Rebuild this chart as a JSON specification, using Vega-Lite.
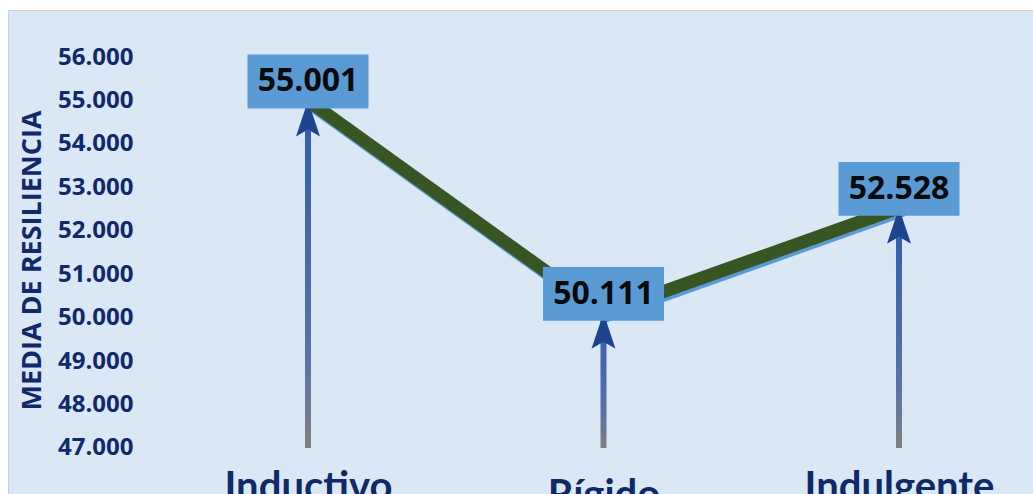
{
  "$schema": "https://vega.github.io/schema/vega-lite/v6.json",
  "width": 1025,
  "height": 484,
  "autosize": "none",
  "padding": {"left": 8, "top": 10, "right": 0, "bottom": 0},
  "background": "white",
  "view": {"fill": "#dae7f5", "stroke": "#d0d0d0", "strokeWidth": 1},
  "data": {"values": [
    {"estilo": "Inductivo", "media": 55.001},
    {"estilo": "Rígido", "media": 50.111},
    {"estilo": "Indulgente", "media": 52.528}
  ]},
  "encoding": {
    "x": {
      "field": "estilo", "type": "nominal", "sort": null,
      "scale": {"type": "point", "range": [300, 891], "padding": 0},
      "axis": {
        "title": null, "orient": "bottom", "offset": 1, "domain": false, "ticks": false, "tickSize": 0,
        "labelPadding": {"condition": {"test": "datum.value === 'Rígido'", "value": 12}, "value": 4},
        "labelBaseline": "alphabetic", "labelFont": "Lato", "labelFontSize": 40,
        "labelFontWeight": "bold", "labelColor": "#0f2a66", "labelAngle": 0, "grid": false,
        "labelLimit": 0, "labelOverlap": false
      }
    },
    "y": {
      "field": "media", "type": "quantitative",
      "scale": {"domain": [45.941, 57.083], "zero": false, "nice": false},
      "axis": {
        "title": "MEDIA DE RESILIENCIA", "offset": -125, "domain": false, "ticks": false, "tickSize": 0,
        "labelPadding": 0, "grid": false, "values": [47, 48, 49, 50, 51, 52, 53, 54, 55, 56],
        "format": ".3f", "labelFont": "Open Sans", "labelFontSize": 24, "labelFontWeight": "bold",
        "labelColor": "#10296b", "labelFlush": false, "labelOverlap": false,
        "titleFont": "Open Sans", "titleFontSize": 27, "titleFontWeight": "bold", "titleColor": "#10296b",
        "titleAngle": 270, "titleX": -101, "titleY": 250, "titleAlign": "center", "titleBaseline": "middle",
        "titleLimit": 0
      }
    }
  },
  "layer": [
    {"mark": {"type": "line", "color": "#5b9bd5", "strokeWidth": 13, "strokeCap": "round", "strokeJoin": "round", "xOffset": 2, "yOffset": 3}},
    {"mark": {"type": "line", "color": "#375623", "strokeWidth": 13, "strokeCap": "round", "strokeJoin": "round"}},
    {
      "mark": {"type": "bar", "width": 6, "color": {"gradient": "linear", "x1": 0, "y1": 1, "x2": 0, "y2": 0,
        "stops": [{"offset": 0, "color": "#7f7f7f"}, {"offset": 0.25, "color": "#5a74a8"}, {"offset": 1, "color": "#2f5cad"}]}},
      "encoding": {"y2": {"datum": 47}}
    },
    {"mark": {"type": "point", "shape": "M0,-1L0.6,0.8L0,0.45L-0.6,0.8Z", "size": 1600, "filled": true, "color": "#1f448f", "opacity": 1, "yOffset": 20}},
    {"mark": {"type": "point", "shape": "M-1,-0.446H1V0.446H-1Z", "size": 14641, "filled": true, "color": "#5b9bd5", "opacity": 1, "yOffset": -19}},
    {
      "mark": {"type": "text", "font": "Open Sans", "fontSize": 32, "fontWeight": "bold", "color": "#0a0a0a", "yOffset": -19, "baseline": "middle"},
      "encoding": {"text": {"field": "media", "type": "quantitative", "format": ".3f"}}
    }
  ]
}
